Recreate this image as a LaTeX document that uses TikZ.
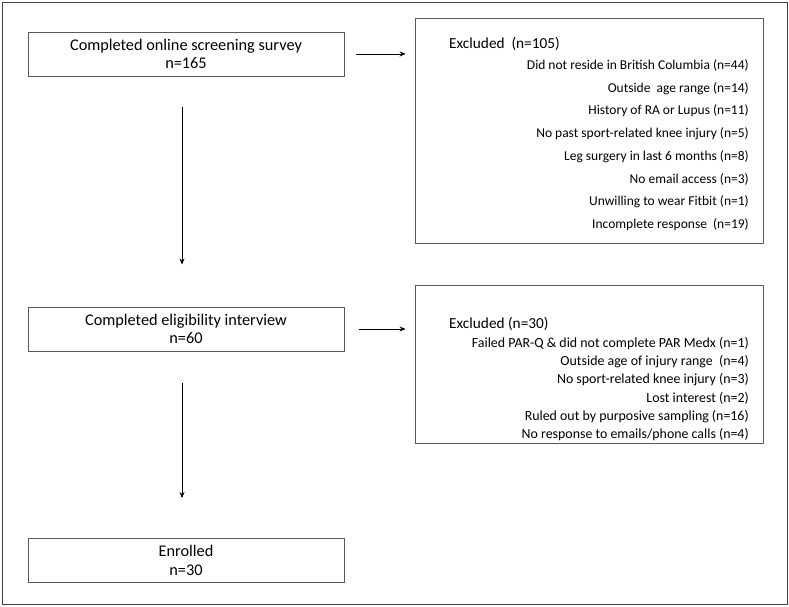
\documentclass[tikz,border=0pt]{standalone}
\usepackage{fontspec}
\setmainfont{Carlito}
\usetikzlibrary{arrows.meta}
\begin{document}
\begin{tikzpicture}[x=1pt,y=-1pt,
  frame/.style={draw=black!75,line width=0.9pt},
  mainbox/.style={draw=black!65,line width=0.9pt,minimum width=316pt,minimum height=44pt,inner sep=0pt,align=center,font=\fontsize{16.3}{18.5}\selectfont},
  exbox/.style={draw=black!65,line width=0.9pt,inner sep=0pt},
  extitle/.style={anchor=west,inner sep=0pt,font=\fontsize{15.3}{17}\selectfont},
  item/.style={anchor=east,inner sep=0pt,font=\fontsize{13.5}{15}\selectfont},
  itemb/.style={anchor=east,inner sep=0pt,font=\fontsize{13.9}{15}\selectfont},
  conn/.style={draw=black,line width=0.7pt,-{Stealth[length=6pt,width=5pt]}}]
\useasboundingbox (0,0) rectangle (789,606);
\draw[frame] (2,2) rectangle (787,604);
% main boxes
\node[mainbox] (b1) at (186,54) {Completed online screening survey\\n=165};
\node[mainbox] (b2) at (186,329) {Completed eligibility interview\\n=60};
\node[mainbox] (b3) at (186,560.5) {Enrolled\\n=30};
% exclusion boxes
\node[exbox,minimum width=348pt,minimum height=225pt] (x1) at (589,130.5) {};
\node[exbox,minimum width=348pt,minimum height=158pt] (x2) at (589,364) {};
% texts box 1
\node[extitle] (t1) at (449,44) {Excluded\ \ (n=105)};
\node[item] (a1) at (749,65.7) {Did not reside in British Columbia (n=44)};
\node[item] (a2) at (749,88.4) {Outside\ \ age range (n=14)};
\node[item] (a3) at (749,111.1) {History of RA or Lupus (n=11)};
\node[item] (a4) at (749,133.8) {No past sport-related knee injury (n=5)};
\node[item] (a5) at (749,156.5) {Leg surgery in last 6 months (n=8)};
\node[item] (a6) at (749,179.2) {No email access (n=3)};
\node[item] (a7) at (749,201.9) {Unwilling to wear Fitbit (n=1)};
\node[item] (a8) at (749,224.6) {Incomplete response\ \ (n=19)};
% texts box 2
\node[extitle] (t2) at (449,324) {Excluded (n=30)};
\node[itemb] (c1) at (749,343.3) {Failed PAR-Q \& did not complete PAR Medx (n=1)};
\node[itemb] (c2) at (749,361.6) {Outside age of injury range\ \ (n=4)};
\node[itemb] (c3) at (749,379.9) {No sport-related knee injury (n=3)};
\node[itemb] (c4) at (749,398.2) {Lost interest (n=2)};
\node[itemb] (c5) at (749,416.5) {Ruled out by purposive sampling (n=16)};
\node[itemb] (c6) at (749,434.8) {No response to emails/phone calls (n=4)};
% connectors
\draw[conn,shorten <=12pt,shorten >=9pt] (b1.east) -- (b1.east -| x1.west);
\draw[conn,shorten <=15pt,shorten >=9pt] (b2.east) -- (b2.east -| x2.west);
\draw[conn,shorten <=31pt,shorten >=42pt] (b1.south -| 182,0) -- (b2.north -| 182,0);
\draw[conn,shorten <=32pt,shorten >=40pt] (b2.south -| 182,0) -- (b3.north -| 182,0);
\end{tikzpicture}
\end{document}
